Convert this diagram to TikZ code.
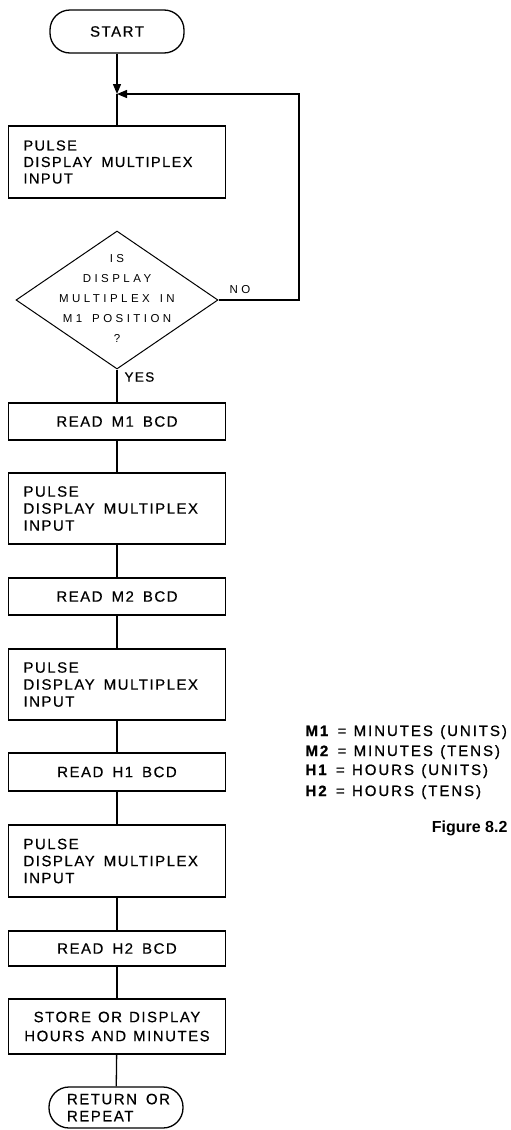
\documentclass[tikz,border=0pt]{standalone}
\usepackage{fontspec}
\setmainfont{Liberation Sans}
\newfontfamily\boxfont[LetterSpace=10,WordSpace=1.6,FakeBold=0.5]{Liberation Sans}
\newfontfamily\legfont[LetterSpace=13,WordSpace=1.2,FakeBold=0.8]{Liberation Sans}
\newfontfamily\qfont[LetterSpace=30,WordSpace=1.5]{Liberation Sans}
\newcommand\wsp{\spaceskip=9pt\relax}
\usetikzlibrary{shapes.geometric,arrows.meta}
\tikzset{
  lbl/.style={font=\boxfont\fontsize{15}{17}\selectfont},
  proc/.style={lbl, draw, line width=1.3pt, rectangle, minimum width=217pt,
    text width=187pt, inner xsep=15pt, inner ysep=0pt},
  term/.style={lbl, draw, line width=1.3pt, rectangle, rounded corners=20pt,
    minimum width=134pt, inner sep=0pt},
  flow/.style={line width=1.3pt},
  arr/.style={flow, -{Triangle[length=10pt,width=8pt]}},
  legend/.style={font=\legfont\fontsize{15}{20}\selectfont, anchor=base west},
}
\begin{document}
\begin{tikzpicture}[x=1pt,y=-1pt]
\useasboundingbox (0,0) rectangle (511,1130);

% terminals
\node[term, minimum height=43pt, align=center] (start) at (117,31.5) {START};
\node[term, minimum height=41pt, text width=120pt, inner xsep=7pt, align=left] (ret) at (116,1107.5) {\wsp\hspace*{11pt}RETURN OR\\\hspace*{11pt}REPEAT};

% process boxes
\node[proc, minimum height=72pt, align=left, font=\boxfont\fontsize{14.5}{16.5}\selectfont] (b1) at (117,162) {\wsp PULSE\\DISPLAY MULTIPLEX\\INPUT};
\node[diamond, draw, line width=1pt, minimum width=202pt, minimum height=138pt, inner sep=0pt] (d) at (117,300) {};
\node[font=\qfont\fontsize{11.5}{20}\selectfont, align=center] (dt) at (117,298) {\spaceskip=8pt\relax IS\\DISPLAY\\MULTIPLEX IN\\M1 POSITION\\?};

\node[proc, minimum height=37pt, align=center] (m1) at (117,421.5) {\wsp READ M1 BCD};
\node[proc, minimum height=71pt, align=left] (p2) at (117,508.5) {\wsp PULSE\\DISPLAY MULTIPLEX\\INPUT};
\node[proc, minimum height=37pt, align=center] (m2) at (117,596.5) {\wsp READ M2 BCD};
\node[proc, minimum height=71pt, align=left] (p3) at (117,684.5) {\wsp PULSE\\DISPLAY MULTIPLEX\\INPUT};
\node[proc, minimum height=38pt, align=center] (h1) at (117,772) {\wsp READ H1 BCD};
\node[proc, minimum height=72pt, align=left] (p4) at (117,861) {\wsp PULSE\\DISPLAY MULTIPLEX\\INPUT};
\node[proc, minimum height=35pt, align=center] (h2) at (117,948.5) {\wsp READ H2 BCD};
\node[proc, minimum height=55pt, align=center, text width=205pt, inner xsep=6pt, font=\boxfont\fontsize{15}{19}\selectfont] (st) at (117,1026.5) {\spaceskip=7pt\relax STORE OR DISPLAY\\HOURS AND MINUTES};

% labels
\node[lbl, anchor=west, font=\boxfont\fontsize{13.5}{15}\selectfont] (yes) at (121,377) {YES};
\node[lbl, font=\qfont\fontsize{11.5}{14}\selectfont] (no) at (240,290) {NO};

% connectors
\coordinate (j) at (117,94);
\coordinate (nc) at (299,300);
\draw[arr] (start) -- (j);
\draw[flow] (j) -- (b1);
\draw[arr] (d.east) -- (nc) |- (j);
\draw[flow] (d.south) -- (m1);
\draw[flow] (m1) -- (p2);
\draw[flow] (p2) -- (m2);
\draw[flow] (m2) -- (p3);
\draw[flow] (p3) -- (h1);
\draw[flow] (h1) -- (p4);
\draw[flow] (p4) -- (h2);
\draw[flow] (h2) -- (st);
\draw[flow] (st) -- (ret);

% legend
\node[legend] (l1) at (302,736) {\textbf{M1} = MINUTES (UNITS)};
\node[legend] (l2) at (302,756) {\textbf{M2} = MINUTES (TENS)};
\node[legend] (l3) at (302,775) {\textbf{H1} = HOURS (UNITS)};
\node[legend] (l4) at (302,796) {\textbf{H2} = HOURS (TENS)};

\node[anchor=base east, font=\bfseries\fontsize{16}{18}\selectfont] (fig) at (511,832) {Figure 8.2};
\end{tikzpicture}
\end{document}
